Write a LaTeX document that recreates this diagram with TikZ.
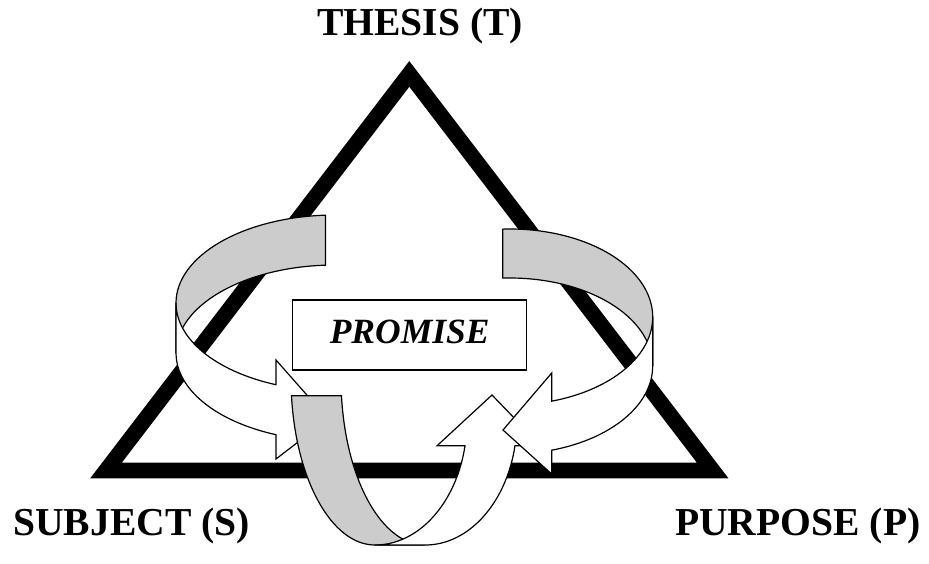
\documentclass[tikz,border=0pt]{standalone}
\usepackage{fontspec}
\setmainfont{Liberation Serif}
\usetikzlibrary{positioning}
\definecolor{ribbongray}{RGB}{204,204,204}

\begin{document}
\begin{tikzpicture}[
    x=1pt, y=-1pt,
    triside/.style={line width=15.6pt, line join=miter},
    backband/.style={draw, line width=1.2pt, fill=ribbongray},
    frontband/.style={draw, line width=1.2pt, fill=white},
    vertexlabel/.style={font=\fontsize{39.6}{46}\selectfont\bfseries, inner sep=0pt, anchor=base west},
    promisebox/.style={draw, line width=1.3pt, minimum width=234pt, minimum height=70pt, inner sep=0pt, text depth=6pt, font=\fontsize{35.5}{42}\selectfont\bfseries\itshape}
]
    \useasboundingbox (0,0) rectangle (929,563);

    \coordinate (apex) at (409.3,73.9);
    \coordinate (sleft) at (106,470.5);
    \coordinate (pright) at (712.7,470.5);
    \draw[triside] (apex) -- (sleft) -- (pright) -- cycle;

    \node[vertexlabel] (thesis) at (317,35) {THESIS (T)};
    \node[vertexlabel] (subject) at (13,535) {SUBJECT (S)};
    \node[vertexlabel] (purpose) at (675,535) {PURPOSE (P)};

    \coordinate (lc) at (335,303);
    \path[backband] (lc) ++(266.6:159 and 88) arc[start angle=266.6, end angle=180, x radius=159, y radius=88]
        -- ++(0,50) arc[start angle=180, end angle=266.6, x radius=159, y radius=88] -- cycle;
    \path[frontband] (lc) ++(180:159 and 88) arc[start angle=180, end angle=111.8, x radius=159, y radius=88]
        -- (276,360) -- (328,419) -- (276,459) -- (276,434.7)
        arc[start angle=111.8, end angle=180, x radius=159, y radius=88] -- cycle;

    \coordinate (bc) at (375,378);
    \coordinate (bf) at (375,420);
    \path[backband] (bc) ++(173.9:84 and 167) arc[start angle=173.9, end angle=90, x radius=84, y radius=167]
        -- ++(50,0) arc[start angle=90, end angle=173.9, x radius=84, y radius=167] -- cycle;
    \path[frontband] (bf) ++(90:92 and 125) arc[start angle=90, end angle=11.9, x radius=92, y radius=125]
        -- (437,445.8) -- (492,395) -- (541,445.8) -- (515,445.8)
        arc[start angle=11.9, end angle=90, x radius=92, y radius=125] -- cycle;

    \coordinate (rc) at (510,317);
    \path[backband] (rc) ++(267.1:142.7 and 88) arc[start angle=267.1, end angle=360, x radius=142.7, y radius=88]
        -- ++(0,49) arc[start angle=360, end angle=267.1, x radius=142.7, y radius=88] -- cycle;
    \path[frontband] (rc) ++(0:142.7 and 88) arc[start angle=0, end angle=73, x radius=142.7, y radius=88]
        -- (551.7,373) -- (503,430) -- (551.7,474) -- (551.7,450.2)
        arc[start angle=73, end angle=0, x radius=142.7, y radius=88] -- cycle;

    \node[promisebox] (promise) at (409.7,335) {PROMISE};
\end{tikzpicture}
\end{document}
